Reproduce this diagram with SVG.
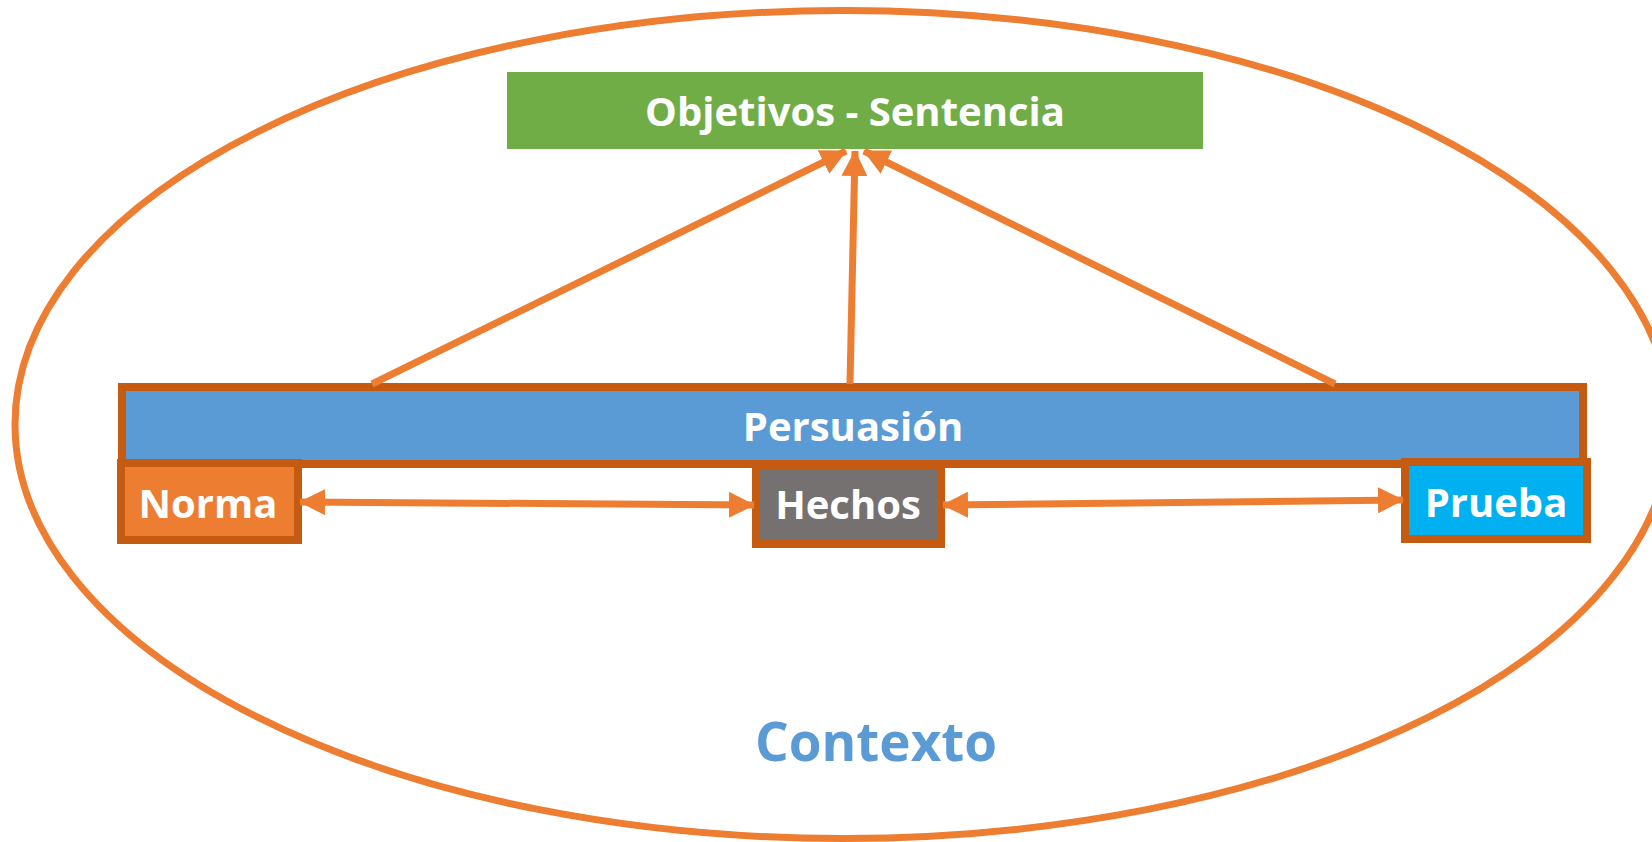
<svg xmlns="http://www.w3.org/2000/svg" width="1652" height="842" viewBox="0 0 1652 842">
<style>
.box{stroke:#C55A11;stroke-width:8}
.lbl{font-family:"Open Sans","Liberation Sans",sans-serif;font-weight:bold;font-size:40px;fill:#FFFFFF;text-anchor:middle}
.con{stroke:#ED7D31;stroke-width:7;fill:none}
</style>
<defs>
<marker id="ah" markerUnits="userSpaceOnUse" markerWidth="26" markerHeight="26" refX="25" refY="13" orient="auto-start-reverse" viewBox="0 0 26 26">
<path d="M0,0 L26,13 L0,26 z" fill="#ED7D31"/>
</marker>
</defs>
<rect width="1652" height="842" fill="#FFFFFF"/>
<g id="contexto">
<ellipse cx="843" cy="424.5" rx="828" ry="414" fill="none" stroke="#ED7D31" stroke-width="7"/>
<text x="876" y="761" style="font-family:'Open Sans','Liberation Sans',sans-serif;font-weight:bold;font-size:53px;fill:#5B9BD5;text-anchor:middle">Contexto</text>
</g>
<g id="objetivos">
<rect x="507" y="72" width="696" height="77" fill="#70AD47"/>
<text class="lbl" x="855" y="126" font-size="41">Objetivos - Sentencia</text>
</g>
<g id="persuasion">
<rect class="box" x="122" y="387" width="1461" height="77" fill="#5B9BD5"/>
<text class="lbl" x="853" y="441">Persuasión</text>
</g>
<g id="norma">
<rect class="box" x="121" y="463" width="177" height="77" fill="#ED7D31"/>
<text class="lbl" x="208" y="518">Norma</text>
</g>
<g id="hechos">
<rect class="box" x="756" y="466" width="185" height="78" fill="#767171"/>
<text class="lbl" x="848" y="519">Hechos</text>
</g>
<g id="prueba">
<rect class="box" x="1405" y="462" width="182" height="77" fill="#00B0F0"/>
<text class="lbl" x="1496" y="517">Prueba</text>
</g>
<g id="connectors">
<line class="con" x1="372" y1="384" x2="846" y2="151" marker-end="url(#ah)"/>
<line class="con" x1="850" y1="384" x2="855" y2="151" marker-end="url(#ah)"/>
<line class="con" x1="1335" y1="384" x2="864" y2="151" marker-end="url(#ah)"/>
<line class="con" x1="300" y1="502" x2="754" y2="505" marker-start="url(#ah)" marker-end="url(#ah)"/>
<line class="con" x1="943" y1="505" x2="1403" y2="500" marker-start="url(#ah)" marker-end="url(#ah)"/>
</g>
</svg>
